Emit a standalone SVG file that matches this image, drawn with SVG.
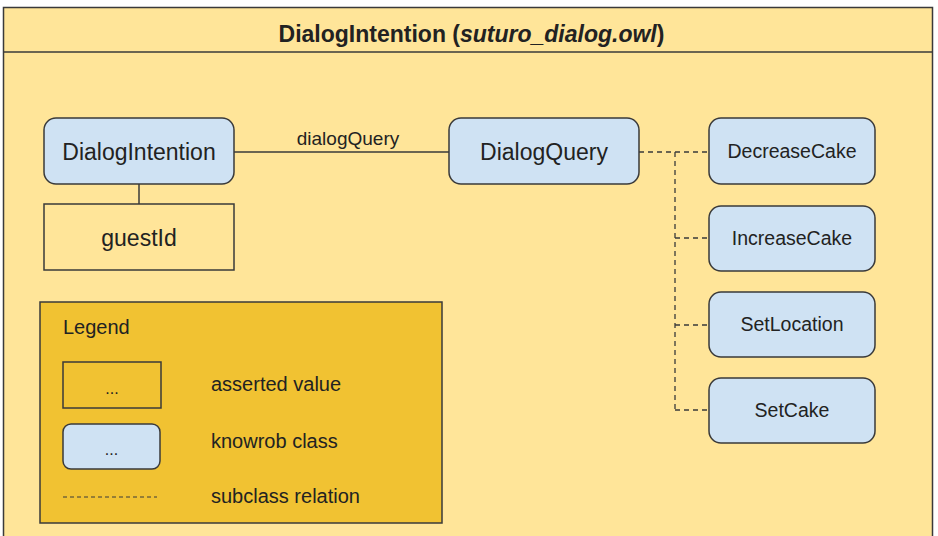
<svg xmlns="http://www.w3.org/2000/svg" width="938" height="536" viewBox="0 0 938 536">
<style>
text{font-family:"Liberation Sans",Arial,sans-serif;fill:#222}
.cls{fill:#cfe2f3;stroke:#3a3a3a;stroke-width:1.5}
.val{fill:#ffe599;stroke:#3a3a3a;stroke-width:1.5}
.ln{stroke:#3a3a3a;stroke-width:1.5;fill:none}
.dash{stroke:#3a3a3a;stroke-width:1.3;fill:none;stroke-dasharray:5 4}
.big{font-size:23px}
.sm{font-size:19.5px}
.leg{font-size:20px}
</style>
<rect x="0" y="0" width="938" height="536" fill="#ffffff"/>
<g id="frame">
<rect x="3.5" y="7.5" width="929" height="530" fill="#ffe599" stroke="#3a3a3a" stroke-width="1.5"/>
<line x1="3.5" y1="52" x2="932.5" y2="52" class="ln"/>
<text x="471.5" y="42" text-anchor="middle" font-size="23" font-weight="bold">DialogIntention (<tspan font-style="italic">suturo_dialog.owl</tspan>)</text>
</g>
<g id="connectors">
<line x1="234" y1="152" x2="449" y2="152" class="ln"/>
<text x="348" y="145" text-anchor="middle" font-size="19">dialogQuery</text>
<line x1="139" y1="184" x2="139" y2="204" class="ln"/>
<path d="M639 152H709M675 152V410M675 238H709M675 325H709M675 410H709" class="dash"/>
</g>
<g id="DialogIntention">
<rect x="44" y="118" width="190" height="66" rx="12" class="cls"/>
<text x="139" y="160" text-anchor="middle" class="big">DialogIntention</text>
</g>
<g id="guestId">
<rect x="44" y="204" width="190" height="66" class="val"/>
<text x="139" y="246" text-anchor="middle" class="big">guestId</text>
</g>
<g id="DialogQuery">
<rect x="449" y="118" width="190" height="66" rx="12" class="cls"/>
<text x="544" y="160" text-anchor="middle" class="big">DialogQuery</text>
</g>
<g id="DecreaseCake">
<rect x="709" y="118" width="166" height="66" rx="12" class="cls"/>
<text x="792" y="158" text-anchor="middle" class="sm">DecreaseCake</text>
</g>
<g id="IncreaseCake">
<rect x="709" y="206" width="166" height="65" rx="12" class="cls"/>
<text x="792" y="245" text-anchor="middle" class="sm">IncreaseCake</text>
</g>
<g id="SetLocation">
<rect x="709" y="292" width="166" height="65" rx="12" class="cls"/>
<text x="792" y="331" text-anchor="middle" class="sm">SetLocation</text>
</g>
<g id="SetCake">
<rect x="709" y="378" width="166" height="65" rx="12" class="cls"/>
<text x="792" y="417" text-anchor="middle" class="sm">SetCake</text>
</g>
<g id="Legend">
<rect x="40" y="302" width="402" height="221" fill="#f1c232" stroke="#3a3a3a" stroke-width="1.5"/>
<text x="63" y="334" class="leg">Legend</text>
<rect x="63" y="362" width="98" height="46" fill="#f1c232" stroke="#3a3a3a" stroke-width="1.5"/>
<text x="112" y="394" text-anchor="middle" font-size="16">...</text>
<rect x="63" y="424" width="97" height="45" rx="8" class="cls"/>
<text x="111.5" y="455" text-anchor="middle" font-size="16">...</text>
<line x1="63" y1="497" x2="157" y2="497" stroke="#3a3a3a" stroke-width="1" stroke-dasharray="4 3"/>
<text x="211" y="391" class="leg">asserted value</text>
<text x="211" y="448" class="leg">knowrob class</text>
<text x="211" y="503" class="leg">subclass relation</text>
</g>
</svg>
